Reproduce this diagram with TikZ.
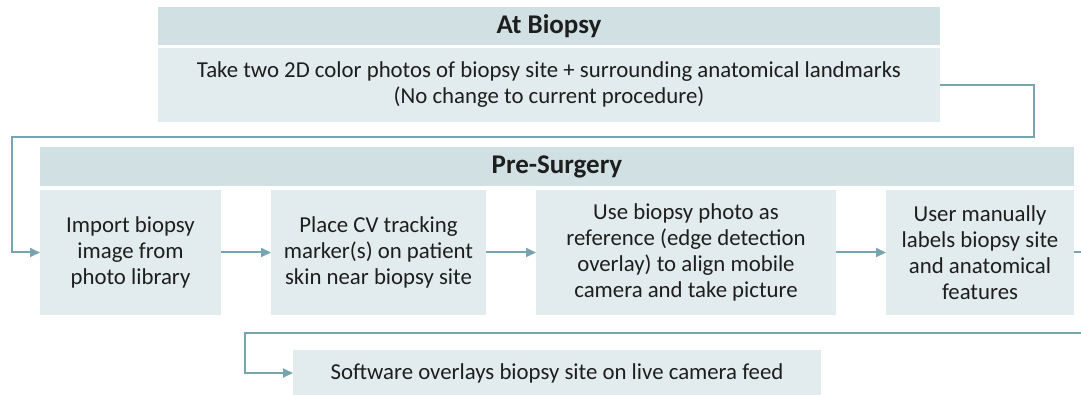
\documentclass[tikz,border=0pt]{standalone}
\usepackage{fontspec}
\setmainfont{Carlito}
\usetikzlibrary{arrows.meta}
\definecolor{hdr}{HTML}{D0E0E3}
\definecolor{bdy}{HTML}{E2EBED}
\definecolor{lnc}{HTML}{76A5AF}
\definecolor{txt}{HTML}{1E1E1E}
\tikzset{
  box/.style={anchor=north west, inner sep=0pt, outer sep=0pt, align=center, text=txt,
    font=\fontsize{22.8}{26}\selectfont},
  hbox/.style={box, fill=hdr, font=\fontsize{27}{30}\selectfont\bfseries},
  bbox/.style={box, fill=bdy},
  conn/.style={draw=lnc, line width=2pt, -{Triangle[length=10pt,width=9pt]}},
  plain/.style={draw=lnc, line width=2pt}
}
\begin{document}
\begin{tikzpicture}[x=1pt,y=-1pt]
\useasboundingbox (0,0) rectangle (1081,395);
\node[hbox, minimum width=782pt, minimum height=38pt] (abh) at (158,7) {At Biopsy};
\node[bbox, minimum width=782pt, minimum height=74pt] (abb) at (158,48) {Take two 2D color photos of biopsy site + surrounding anatomical landmarks\\(No change to current procedure)};
\node[hbox, minimum width=1034pt, minimum height=39pt] (psh) at (40,147) {Pre-Surgery};
\node[bbox, minimum width=181pt, minimum height=125pt] (b1) at (40,190) {Import biopsy\\image from\\photo library};
\node[bbox, minimum width=215pt, minimum height=125pt] (b2) at (271,190) {Place CV tracking\\marker(s) on patient\\skin near biopsy site};
\node[bbox, minimum width=300pt, minimum height=125pt] (b3) at (536,190) {Use biopsy photo as\\reference (edge detection\\overlay) to align mobile\\camera and take picture};
\node[bbox, minimum width=188pt, minimum height=125pt] (b4) at (886,190) {User manually\\labels biopsy site\\and anatomical\\features};
\node[bbox, minimum width=528pt, minimum height=46pt] (b5) at (293,350) {Software overlays biopsy site on live camera feed};
\coordinate (c1) at (1034,85);
\coordinate (c2) at (1034,137);
\coordinate (c3) at (12,137);
\coordinate (e1) at (1081,252.5);
\coordinate (e2) at (1081,333);
\coordinate (c4) at (245,333);
\draw[conn] (abb.east) -- (c1) -- (c2) -- (c3) |- (b1.west);
\draw[conn] (b1.east) -- (b2.west);
\draw[conn] (b2.east) -- (b3.west);
\draw[conn] (b3.east) -- (b4.west);
\draw[plain] (b4.east) -- (e1);
\draw[conn] (e2) -- (c4) |- (b5.west);
\end{tikzpicture}
\end{document}
